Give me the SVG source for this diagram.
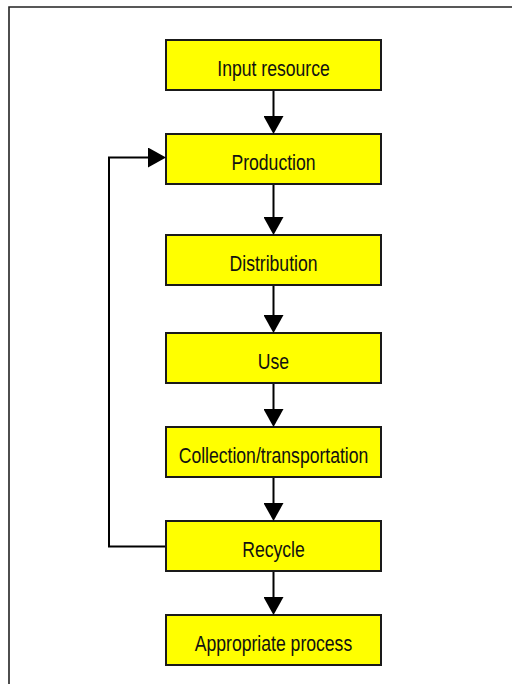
<svg xmlns="http://www.w3.org/2000/svg" width="512" height="684" viewBox="0 0 512 684">
  <style>
    .box { fill: #ffff00; stroke: #1a1a1a; stroke-width: 2; }
    .label { font-family: "Liberation Sans", Arial, sans-serif; font-size: 22px; fill: #111; text-anchor: middle; }
    .link { fill: none; stroke: #000; stroke-width: 2; marker-end: url(#head); }
    .frame { fill: none; stroke: #222; stroke-width: 1.6; }
  </style>
  <defs>
    <marker id="head" viewBox="0 0 18 20" refX="14" refY="10" markerWidth="18" markerHeight="20" markerUnits="userSpaceOnUse" orient="auto">
      <path d="M0,0 L18,10 L0,20 Z" fill="#000"/>
    </marker>
  </defs>
  <rect width="512" height="684" fill="#fff"/>
  <!-- outer frame (left and top edges visible) -->
  <path class="frame" d="M9,684 V7 H512"/>

  <g id="input-resource">
    <rect class="box" x="166" y="40" width="215" height="50"/>
    <text class="label" transform="translate(273.5,76) scale(0.8,1)">Input resource</text>
  </g>
  <g id="production">
    <rect class="box" x="166" y="134" width="215" height="50"/>
    <text class="label" transform="translate(273.5,170) scale(0.8,1)">Production</text>
  </g>
  <g id="distribution">
    <rect class="box" x="166" y="235" width="215" height="50"/>
    <text class="label" transform="translate(273.5,271) scale(0.8,1)">Distribution</text>
  </g>
  <g id="use">
    <rect class="box" x="166" y="333" width="215" height="50"/>
    <text class="label" transform="translate(273.5,369) scale(0.8,1)">Use</text>
  </g>
  <g id="collection">
    <rect class="box" x="166" y="427" width="215" height="50"/>
    <text class="label" transform="translate(273.5,463) scale(0.8,1)">Collection/transportation</text>
  </g>
  <g id="recycle">
    <rect class="box" x="166" y="521" width="215" height="50"/>
    <text class="label" transform="translate(273.5,557) scale(0.8,1)">Recycle</text>
  </g>
  <g id="appropriate-process">
    <rect class="box" x="166" y="615" width="215" height="50"/>
    <text class="label" transform="translate(273.5,651) scale(0.8,1)">Appropriate process</text>
  </g>

  <g id="connectors">
    <path class="link" d="M273.5,91 V130"/>
    <path class="link" d="M273.5,185 V231"/>
    <path class="link" d="M273.5,286 V329"/>
    <path class="link" d="M273.5,384 V423"/>
    <path class="link" d="M273.5,478 V517"/>
    <path class="link" d="M273.5,572 V611"/>
    <!-- feedback loop: Recycle back to Production -->
    <path class="link" d="M165,546.5 H109 V157.5 H162"/>
  </g>
</svg>
